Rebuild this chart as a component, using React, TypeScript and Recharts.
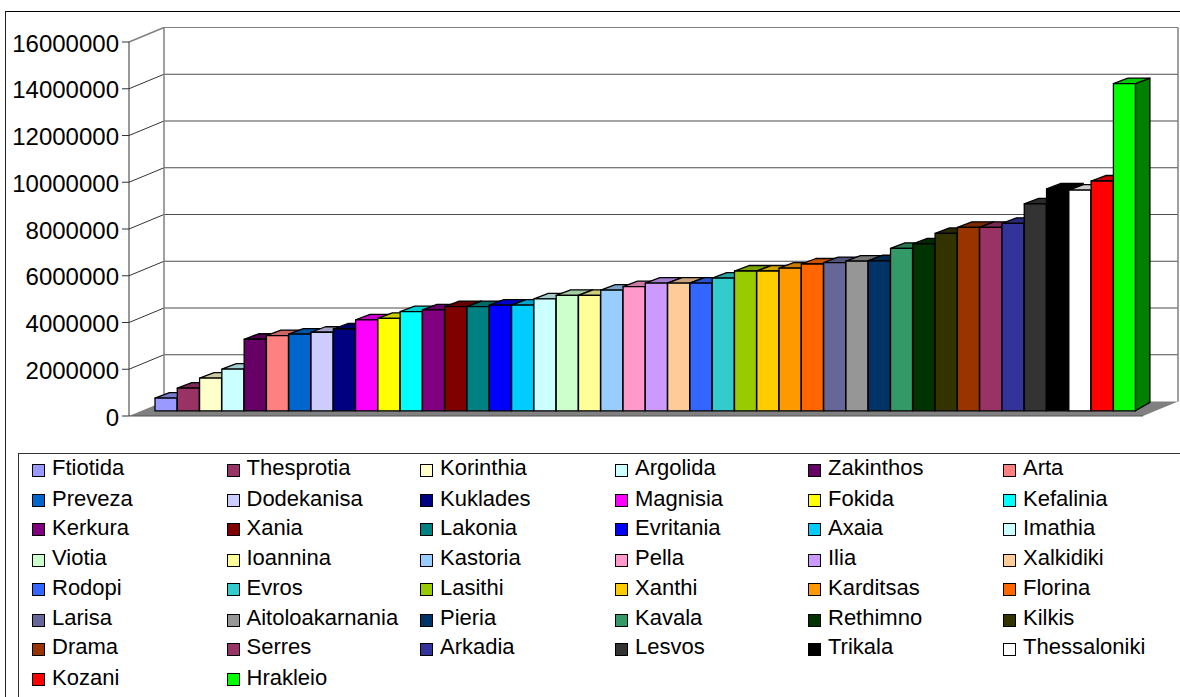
import React from "react";
import { ComposedChart, Bar, Cell, XAxis, YAxis, CartesianGrid, ReferenceArea, Legend } from "recharts";

const regions = ["Ftiotida","Thesprotia","Korinthia","Argolida","Zakinthos","Arta","Preveza","Dodekanisa","Kuklades","Magnisia","Fokida","Kefalinia","Kerkura","Xania","Lakonia","Evritania","Axaia","Imathia","Viotia","Ioannina","Kastoria","Pella","Ilia","Xalkidiki","Rodopi","Evros","Lasithi","Xanthi","Karditsas","Florina","Larisa","Aitoloakarnania","Pieria","Kavala","Rethimno","Kilkis","Drama","Serres","Arkadia","Lesvos","Trikala","Thessaloniki","Kozani","Hrakleio"];
const values = [545000,970000,1400000,1780000,3060000,3220000,3280000,3360000,3500000,3890000,3950000,4240000,4320000,4460000,4460000,4520000,4520000,4790000,4940000,4940000,5160000,5310000,5460000,5460000,5460000,5680000,5980000,5980000,6100000,6280000,6340000,6400000,6420000,6950000,7140000,7590000,7850000,7850000,8020000,8850000,9490000,9440000,9830000,14000000];
const colors = ["#9999FF","#993366","#FFFFCC","#CCFFFF","#660066","#FF8080","#0066CC","#CCCCFF","#000080","#FF00FF","#FFFF00","#00FFFF","#800080","#800000","#008080","#0000FF","#00CCFF","#CCFFFF","#CCFFCC","#FFFF99","#99CCFF","#FF99CC","#CC99FF","#FFCC99","#3366FF","#33CCCC","#99CC00","#FFCC00","#FF9900","#FF6600","#666699","#969696","#003366","#339966","#003300","#333300","#993300","#993366","#333399","#333333","#000000","#FFFFFF","#FF0000","#00FF00"];
const yTicks = [0,2000000,4000000,6000000,8000000,10000000,12000000,14000000,16000000];

const chartData = regions.map((name, i) => ({ name, value: values[i] }));

const FONT = "'Liberation Sans', Arial, sans-serif";
const WALL_DX = 35;
const WALL_DY = 14.5;
const PAD_LEFT = 26;
const PAD_RIGHT = 7.3;
const BAR_LIFT = 5.2;
const DEPTH_DX = 14.5;
const DEPTH_DY = 5.5;
const BASE_DY = 8.4;

const shade = (hex: string, k: number) => {
  const n = parseInt(hex.slice(1), 16);
  const c = (v: number) => Math.round(v * k);
  return `rgb(${c((n >> 16) & 255)},${c((n >> 8) & 255)},${c(n & 255)})`;
};

const Bar3D = (props: any) => {
  const { x, y, width, height, fill } = props;
  const top = y - BAR_LIFT;
  const bottom = top + height;
  const r = x + width;
  return (
    <g stroke="#000" strokeWidth={1.3} strokeLinejoin="round">
      <polygon points={`${r},${top} ${r + DEPTH_DX},${top - DEPTH_DY} ${r + DEPTH_DX},${bottom - BASE_DY} ${r},${bottom}`} fill={shade(fill, 0.5)} />
      <polygon points={`${x},${top} ${x + DEPTH_DX},${top - DEPTH_DY} ${r + DEPTH_DX},${top - DEPTH_DY} ${r},${top}`} fill={shade(fill, 0.8)} />
      <rect x={x} y={top} width={width} height={height} fill={fill} />
    </g>
  );
};

const GridLine3D = (props: any) => {
  const { x1, y1, x2, index } = props;
  const isTop = Math.abs(y1 - 42) < 1;
  const isFloor = Math.abs(y1 - 416) < 1;
  if (isFloor) return <g key={index} />;
  return (
    <g key={index} fill="none">
      <line x1={x1} y1={y1} x2={x1 + WALL_DX} y2={y1 - WALL_DY} stroke={isTop ? "#808080" : "#333"} strokeWidth={isTop ? 1.4 : 1} />
      <line x1={x1 + WALL_DX} y1={y1 - WALL_DY} x2={x2 + WALL_DX} y2={y1 - WALL_DY} stroke={isTop ? "#808080" : "#4d4d4d"} strokeWidth={1.2} />
    </g>
  );
};

const Walls = (props: any) => {
  const { x, y, width, height } = props;
  const left = x - PAD_LEFT;
  const w = width + PAD_LEFT + PAD_RIGHT;
  const bottom = y + height;
  const bx = left + WALL_DX;
  const by = bottom - WALL_DY;
  return (
    <g>
      <line x1={bx} y1={y - WALL_DY} x2={bx} y2={by} stroke="#808080" strokeWidth={1.5} />
      <line x1={bx + w} y1={y - WALL_DY} x2={bx + w} y2={by} stroke="#808080" strokeWidth={1.5} />
      <polygon points={`${left},${bottom} ${bx},${by} ${bx + w},${by} ${left + w},${bottom}`} fill="#808080" />
      <line x1={left} y1={bottom} x2={left + w} y2={bottom} stroke="#555" strokeWidth={1.2} />
    </g>
  );
};

const ROW_TEXT_Y = [467.5, 498.7, 528, 558, 588.3, 618.3, 646.7, 678];
const ROW_SWATCH_Y = [470, 500.7, 529.3, 560, 589, 620, 649, 679];
const COL_X = [32, 226.5, 420, 615, 808, 1003];

const LegendBox = () => (
  <div style={{ position: "absolute", left: 0, top: 0, width: 1180, height: 697, fontFamily: FONT, fontSize: 22, color: "#000" }}>
    <div style={{ position: "absolute", left: 18, top: 453, width: 1300, height: 400, border: "1px solid #333", boxSizing: "border-box" }} />
    {regions.map((name, i) => {
      const col = i % 6;
      const row = Math.floor(i / 6);
      return (
        <React.Fragment key={name}>
          <div style={{ position: "absolute", left: COL_X[col], top: ROW_SWATCH_Y[row] - 6.5, width: 13, height: 13, boxSizing: "border-box", background: colors[i], border: "1px solid #000" }} />
          <div style={{ position: "absolute", left: COL_X[col] + 20, top: ROW_TEXT_Y[row] - 15, lineHeight: "30px", whiteSpace: "nowrap" }}>{name}</div>
        </React.Fragment>
      );
    })}
  </div>
);

export default function App() {
  return (
    <div style={{ position: "absolute", left: 0, top: 0, width: 1180, height: 697, overflow: "hidden", background: "#fff" }}>
      <div style={{ position: "absolute", left: 5, top: 11, width: 1300, height: 900, borderTop: "1px solid #000", borderLeft: "1.5px solid #222", boxSizing: "border-box" }} />
      <ComposedChart
        width={1180}
        height={697}
        data={chartData}
        barCategoryGap={0}
        margin={{ top: 42, right: 37, bottom: 281, left: 0 }}
        style={{ position: "absolute", left: 0, top: 0, fontFamily: FONT }}
      >
        <ReferenceArea y1={0} y2={16000000} shape={<Walls />} ifOverflow="visible" />
        <CartesianGrid vertical={false} syncWithTicks horizontal={GridLine3D as any} />
        <XAxis dataKey="name" hide padding={{ left: PAD_LEFT, right: PAD_RIGHT }} />
        <YAxis
          width={129}
          domain={[0, 16000000]}
          ticks={yTicks}
          interval={0}
          tickSize={7}
          tickMargin={3}
          stroke="#333"
          tick={{ fill: "#000", fontSize: 24, fontFamily: FONT, dy: 1 }}
        />
        <Legend layout="horizontal" align="center" verticalAlign="middle" wrapperStyle={{ left: 0, top: 0, width: 1180, height: 697 }} content={() => <LegendBox />} />
        <Bar dataKey="value" isAnimationActive={false} shape={<Bar3D />}>
          {chartData.map((d, i) => <Cell key={d.name} fill={colors[i]} />)}
        </Bar>
      </ComposedChart>
    </div>
  );
}
